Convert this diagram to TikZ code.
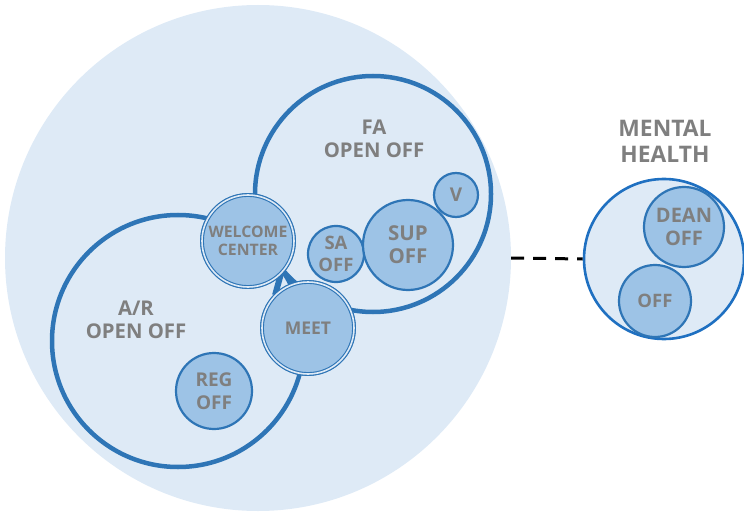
\documentclass[tikz,border=0pt]{standalone}
\usepackage{fontspec}
\setmainfont{Open Sans}
\definecolor{bgc}{HTML}{DEEAF6}
\definecolor{fillc}{HTML}{9DC3E6}
\definecolor{linec}{HTML}{2E75B6}
\definecolor{mhc}{HTML}{1F70C1}
\definecolor{txtc}{HTML}{7F7F7F}
\newcommand{\fs}[2]{\bfseries\fontsize{#1}{#2}\selectfont}
\tikzset{
  zone/.style={circle, draw=linec, line width=4.5pt, inner sep=0pt},
  office/.style={circle, draw=linec, line width=2.2pt, fill=fillc, inner sep=0pt,
    text=txtc, font=\fs{18.5}{22}, align=center},
  hub/.style={office, double=bgc, double distance=1.6pt, line width=1.1pt},
  lbl/.style={text=txtc, font=\fs{20.3}{23}, align=center, inner sep=0pt}
}
\begin{document}
\begin{tikzpicture}[x=1pt,y=-1pt]
\useasboundingbox (0,0) rectangle (744,513);
% big campus circle
\node[circle, fill=bgc, inner sep=0pt, minimum size=506pt] (campus) at (258,258) {};
% region circles
\node[zone, minimum size=252pt] (ar) at (178,341) {};
\node[zone, minimum size=236pt] (fa) at (373,194) {};
% labels
\node[lbl] (falbl) at (374,139) {FA\\OPEN OFF};
\node[lbl] (arlbl) at (136,320) {A/R\\OPEN OFF};
% hubs
\node[hub, minimum size=92pt] (welcome) at (248,241) {};
\node[hub, minimum size=92pt] (meet) at (308,328) {};
\draw[linec, line width=6pt] (welcome.south east) -- (meet.north west);
\node[hub, minimum size=92pt, font=\fs{15.8}{18}] at (248,241) {WELCOME\\CENTER};
\node[hub, minimum size=92pt, font=\fs{17.5}{20}] at (308,328) {MEET};
% offices
\node[office, minimum size=56pt] (sa) at (336,254) {SA\\OFF};
\node[office, minimum size=90pt, font=\fs{20.5}{23}] (sup) at (408,245) {SUP\\OFF};
\node[office, minimum size=44pt, font=\fs{19}{22}] (v) at (456,195) {V};
\node[office, minimum size=76pt, font=\fs{19}{23}] (reg) at (214,391) {REG\\OFF};
% mental health
\node[circle, fill=bgc, draw=mhc, line width=2.6pt, inner sep=0pt, minimum size=160pt] (mh) at (664,259) {};
\node[lbl, font=\fs{22.8}{26}] (mhlbl) at (665,141) {MENTAL\\HEALTH};
\node[office, minimum size=80pt, font=\fs{20}{23}] (dean) at (684,227) {DEAN\\OFF};
\node[office, minimum size=72pt] (off) at (655,301) {OFF};
\draw[black, line width=3pt, dash pattern=on 13pt off 9pt] (campus.east) -- (mh.west);
\end{tikzpicture}
\end{document}
